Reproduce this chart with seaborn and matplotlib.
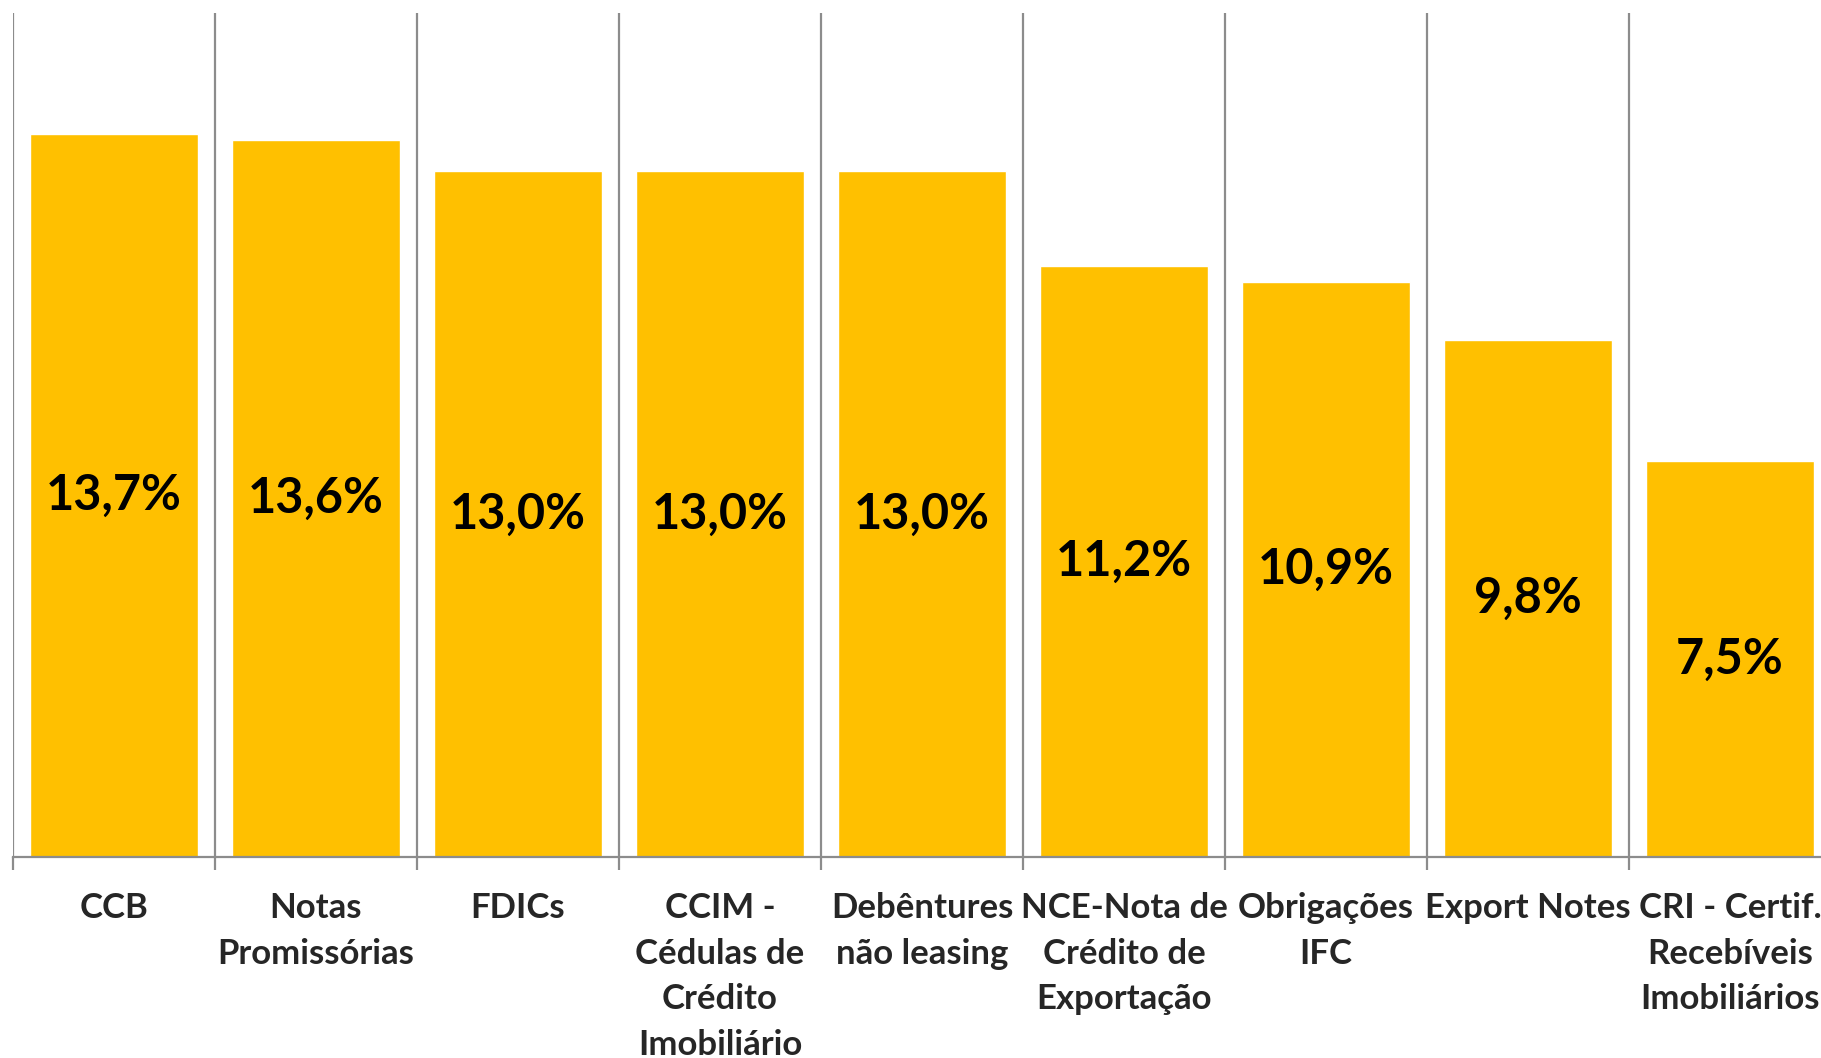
import matplotlib
matplotlib.use("Agg")
import matplotlib.pyplot as plt
import seaborn as sns
import pandas as pd

# values (%)
categorias = ["CCB", "Notas\nPromissórias", "FDICs", "CCIM -\nCédulas de\nCrédito\nImobiliário",
              "Debêntures\nnão leasing", "NCE-Nota de\nCrédito de\nExportação", "Obrigações\nIFC",
              "Export Notes", "CRI - Certif.\nRecebíveis\nImobiliários"]
valores = [13.7, 13.6, 13.0, 13.0, 13.0, 11.2, 10.9, 9.8, 7.5]
rotulos = ["13,7%", "13,6%", "13,0%", "13,0%", "13,0%", "11,2%", "10,9%", "9,8%", "7,5%"]

sns.set_style("white")
plt.rcParams["font.family"] = ["Lato", "DejaVu Sans"]

df = pd.DataFrame({"cat": categorias, "val": valores})

fig = plt.figure(figsize=(18.21, 10.58), dpi=100)
ax = fig.add_axes([13 / 1821, 201 / 1058, 9 * 202 / 1821, 844 / 1058])

sns.barplot(data=df, x="cat", y="val", color="#FFC000", saturation=1, width=0.835, ax=ax)

ax.set_ylim(0, 16)
ax.set_xlim(-0.5, 8.5)
ax.set_xlabel("")
ax.set_ylabel("")
ax.set_yticks([])

# labels in the middle of each bar
for bar, txt in zip(ax.patches, rotulos):
    ax.text(bar.get_x() + bar.get_width() / 2, bar.get_height() / 2, txt,
            ha="center", va="center", fontsize=35, fontweight="bold", color="black")

# vertical separators between categories
ax.set_xticks([i - 0.5 for i in range(10)], minor=True)
ax.xaxis.grid(True, which="minor", color="#8c8c8c", linewidth=1.6)
ax.tick_params(axis="x", which="minor", length=9, width=1.6, color="#8c8c8c", bottom=True)
ax.tick_params(axis="x", which="major", length=0, pad=25)
ax.set_xticks(range(len(categorias)))
ax.set_xticklabels(categorias, fontsize=25, fontweight="bold", va="top", linespacing=1.53)

for s in ["top", "right", "left"]:
    ax.spines[s].set_visible(False)
ax.spines["bottom"].set_color("#8c8c8c")
ax.spines["bottom"].set_linewidth(1.6)

fig.savefig("out.png", dpi=100)
